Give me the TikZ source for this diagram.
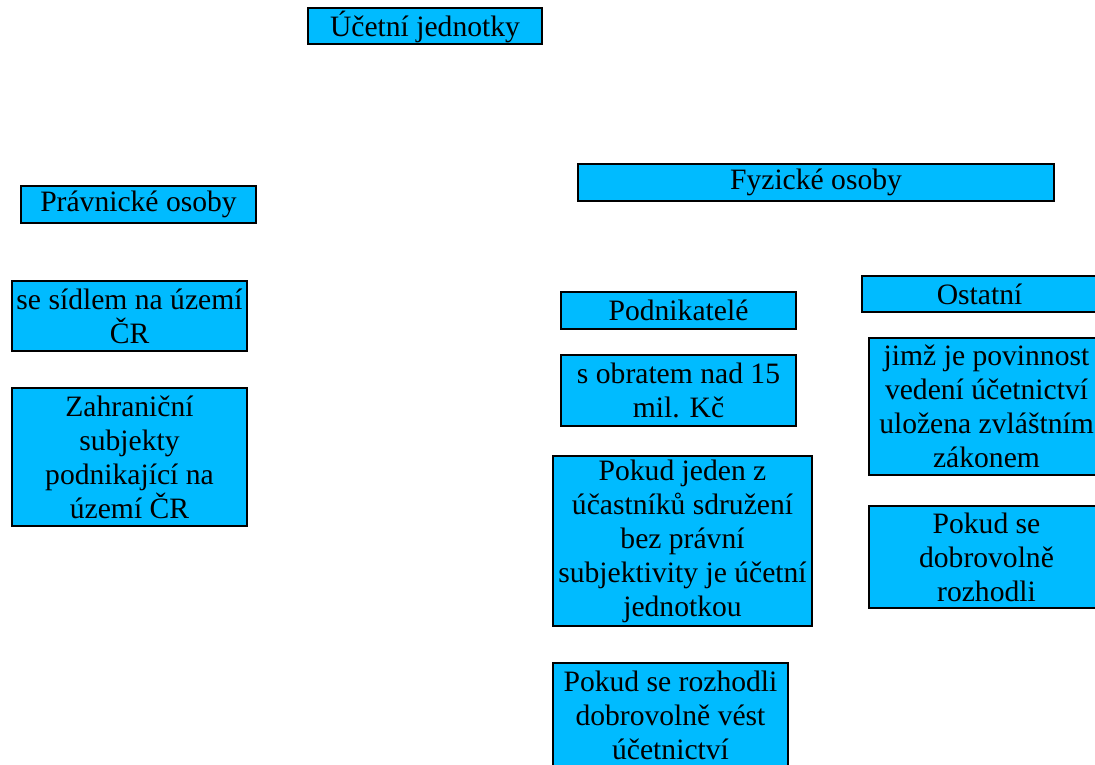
\documentclass[tikz,border=0pt]{standalone}
\usepackage{fontspec}
\setmainfont{Liberation Serif}
\definecolor{boxblue}{RGB}{0,187,255}
\tikzset{
  box/.style={draw=black, line width=1pt, fill=boxblue, inner sep=1pt,
    align=center, font=\fontsize{14.8}{17}\selectfont},
}

\begin{document}
\begin{tikzpicture}[x=0.5pt, y=-0.5pt]
      \useasboundingbox (0,0) rectangle (1095,764);
      \clip (0,0) rectangle (1095,764);

      \node[box, minimum width=117pt, minimum height=18pt] (ucetni) at (425,26.5) {Účetní jednotky};

      % pravnicke osoby
      \node[box, minimum width=117.5pt, minimum height=18.5pt] (pravnicke) at (138.5,204.5) {Právnické osoby};
      \node[box, minimum width=117.5pt, minimum height=35pt] (sidlo) at (129.5,316) {se sídlem na území\\ČR};
      \node[box, minimum width=117.5pt, minimum height=69pt] (zahranicni) at (129.5,457) {Zahraniční\\subjekty\\podnikající na\\území ČR};

      % fyzicke osoby
      \node[box, minimum width=238pt, minimum height=18.5pt] (fyzicke) at (816,182.5) {Fyzické osoby};
      \node[box, minimum width=117.5pt, minimum height=18.5pt] (podnikatele) at (678.5,310.5) {Podnikatelé};
      \node[box, minimum width=117.5pt, minimum height=35.5pt] (obrat) at (678.5,390.5) {s obratem nad 15\\mil. Kč};
      \node[box, minimum width=129.5pt, minimum height=85pt] (sdruzeni) at (682.5,541) {Pokud jeden z\\účastníků sdružení\\bez právní\\subjektivity je účetní\\jednotkou};
      \node[box, minimum width=117.5pt, minimum height=52pt] (vest) at (670.5,715) {Pokud se rozhodli\\dobrovolně vést\\účetnictví};

      \node[box, minimum width=117.5pt, minimum height=18pt] (ostatni) at (979.5,294) {Ostatní};
      \node[box, minimum width=117.5pt, minimum height=68.5pt] (zakon) at (986.5,406.5) {jimž je povinnost\\vedení účetnictví\\uložena zvláštním\\zákonem};
      \node[box, minimum width=117.5pt, minimum height=51pt] (rozhodli) at (986.5,557) {Pokud se\\dobrovolně\\rozhodli};
    \end{tikzpicture}
\end{document}
